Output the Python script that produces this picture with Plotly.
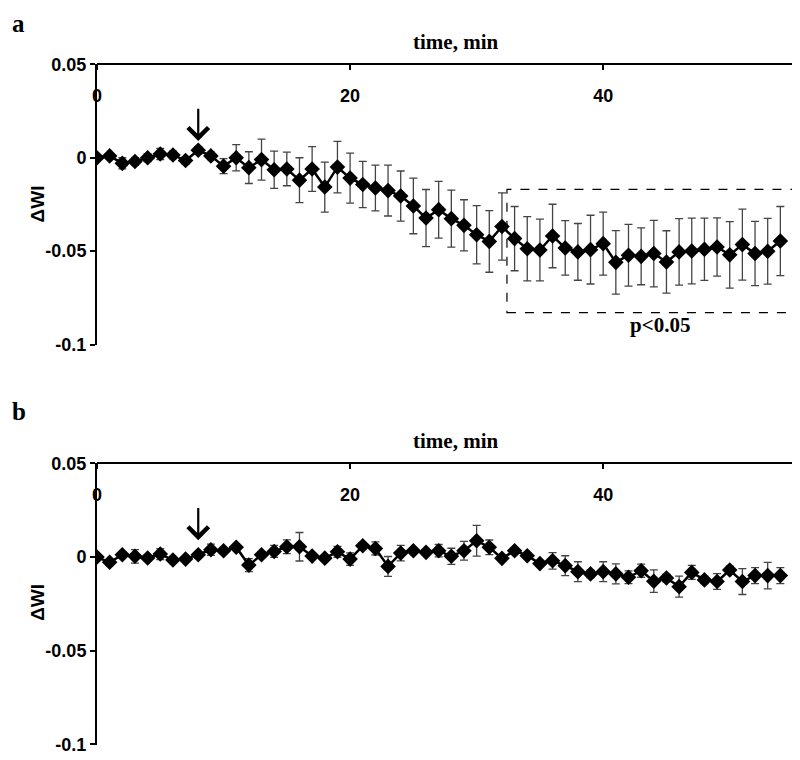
import plotly.graph_objects as go

# time points, one per minute
time_min = list(range(55))

# panel a: mean change and error
wi_a = [0.0, 0.001, -0.003, -0.002, 0.0, 0.002, 0.0015, -0.0015, 0.004, 0.001,
        -0.0045, 0.0, -0.0053, -0.001, -0.0064, -0.006, -0.012, -0.006, -0.0157, -0.005,
        -0.0109, -0.0143, -0.0162, -0.0176, -0.0205, -0.0258, -0.0323, -0.0278, -0.0326, -0.0362,
        -0.0412, -0.0448, -0.0368, -0.0433, -0.0487, -0.0494, -0.0419, -0.0483, -0.0504, -0.0492,
        -0.046, -0.056, -0.0522, -0.0528, -0.0513, -0.0558, -0.0504, -0.0499, -0.049, -0.0478,
        -0.052, -0.0465, -0.0513, -0.0501, -0.0446]
err_a = [0.001, 0.001, 0.003, 0.002, 0.002, 0.003, 0.002, 0.002, 0.002, 0.002,
         0.004, 0.007, 0.0085, 0.011, 0.01, 0.009, 0.012, 0.012, 0.0134, 0.0138,
         0.0134, 0.0124, 0.0122, 0.0136, 0.0134, 0.0149, 0.0153, 0.0152, 0.0153, 0.0137,
         0.0156, 0.0165, 0.018, 0.0172, 0.0172, 0.0165, 0.017, 0.0146, 0.0152, 0.0184,
         0.0169, 0.017, 0.0165, 0.0152, 0.0178, 0.0167, 0.0178, 0.0176, 0.0167, 0.0156,
         0.0178, 0.019, 0.0172, 0.0176, 0.0185]

# panel b
wi_b = [0.0, -0.0028, 0.0012, 0.0004, -0.0005, 0.0016, -0.0016, -0.0011, 0.0012, 0.0039,
        0.0034, 0.0052, -0.0043, 0.0012, 0.003, 0.0055, 0.0055, 0.0005, -0.0006, 0.0028,
        -0.0011, 0.006, 0.0046, -0.005, 0.0021, 0.0034, 0.0025, 0.0034, 0.0004, 0.0034,
        0.0087, 0.0052, -0.0007, 0.0034, 0.0007, -0.0035, -0.002, -0.0046, -0.0078, -0.009,
        -0.0078, -0.009, -0.0108, -0.0073, -0.0129, -0.0112, -0.0158, -0.0082, -0.0122, -0.0131,
        -0.0069, -0.0131, -0.0099, -0.0099, -0.0099]
err_b = [0.001, 0.001, 0.0015, 0.0036, 0.001, 0.0029, 0.001, 0.001, 0.0015, 0.003,
         0.0015, 0.0015, 0.0035, 0.0015, 0.0032, 0.0037, 0.0076, 0.0015, 0.0015, 0.0029,
         0.0033, 0.0015, 0.0035, 0.0053, 0.0041, 0.0015, 0.0015, 0.0033, 0.0043, 0.005,
         0.0082, 0.0039, 0.0015, 0.0015, 0.0015, 0.0015, 0.0044, 0.0053, 0.0053, 0.002,
         0.0053, 0.0053, 0.0034, 0.0035, 0.006, 0.002, 0.0056, 0.0037, 0.002, 0.0042,
         0.002, 0.0069, 0.0043, 0.0071, 0.0043]

y_ticks = [0.05, 0, -0.05, -0.1]
y_ticklabels = ["0.05", "0", "-0.05", "-0.1"]
x_ticks = [0, 20, 40]
stim_time = 8

SANS = "Liberation Sans, Arial"
SERIF = "Liberation Serif, Times New Roman, serif"

fig = go.Figure()
fig.add_trace(go.Scatter(
    x=time_min, y=wi_a, xaxis="x", yaxis="y", mode="lines+markers",
    line=dict(color="black", width=2.5),
    marker=dict(symbol="diamond", size=12, color="black"),
    error_y=dict(type="data", array=err_a, color="#444", thickness=1.3, width=4),
    showlegend=False))
fig.add_trace(go.Scatter(
    x=time_min, y=wi_b, xaxis="x2", yaxis="y2", mode="lines+markers",
    line=dict(color="black", width=2.5),
    marker=dict(symbol="diamond", size=12, color="black"),
    error_y=dict(type="data", array=err_b, color="#444", thickness=1.3, width=4),
    showlegend=False))

xax = dict(range=[0, 55], side="bottom", anchor="free", tickvals=x_ticks, ticks="outside",
           ticklen=5, tickwidth=1.5, tickcolor="black", ticklabelstandoff=10,
           showline=True, linecolor="black", linewidth=2, showgrid=False, zeroline=False,
           automargin=False,
           tickfont=dict(family=SANS, size=18, color="black", weight="bold"))
yax = dict(range=[-0.1004, 0.0502], tickvals=y_ticks, ticktext=y_ticklabels, ticks="outside",
           ticklen=5, tickwidth=1.5, tickcolor="black", automargin=False,
           showline=True, linecolor="black", linewidth=2, showgrid=False, zeroline=False,
           tickfont=dict(family=SANS, size=18, color="black", weight="bold"))

fig.update_layout(
    xaxis=dict(xax, position=1.0),
    xaxis2=dict(xax, position=0.414),
    yaxis=dict(yax, domain=[0.587, 1.0], anchor="x"),
    yaxis2=dict(yax, domain=[0.0, 0.414], anchor="x2"),
)

# stimulus arrows
for xr, yr in [("x", "y"), ("x2", "y2")]:
    fig.add_annotation(x=stim_time, y=0.009, ax=stim_time, ay=0.027, xref=xr, yref=yr,
                       axref=xr, ayref=yr, showarrow=True, arrowhead=4, arrowsize=1.8,
                       arrowwidth=2.2, arrowcolor="black", text="")

# significance box
fig.add_shape(type="rect", xref="paper", yref="paper", x0=0.589, x1=1.008, y0=0.635, y1=0.816,
              line=dict(color="black", width=1.2, dash="dash"))
fig.add_annotation(x=44.5, y=-0.0895, xref="x", yref="y", text="p<0.05", showarrow=False,
                   font=dict(family=SERIF, size=21, color="black", weight="bold"))

# axis titles and panel letters
for ypos in [1.032, 0.446]:
    fig.add_annotation(x=0.515, y=ypos, xref="paper", yref="paper", text="time, min",
                       showarrow=False, xanchor="center", yanchor="middle",
                       font=dict(family=SERIF, size=21, color="black", weight="bold"))
for ypos in [0.795, 0.21]:
    fig.add_annotation(x=-0.085, y=ypos, xref="paper", yref="paper", text="ΔWI",
                       textangle=-90, showarrow=False, xanchor="center", yanchor="middle",
                       font=dict(family=SANS, size=19, color="black", weight="bold"))
for letter, ypos in [("a", 1.059), ("b", 0.489)]:
    fig.add_annotation(x=-0.125, y=ypos, xref="paper", yref="paper", text=letter,
                       showarrow=False, xanchor="left", yanchor="middle",
                       font=dict(family=SERIF, size=25, color="black", weight="bold"))

# page body adds an 8px margin, so the figure is 8px smaller on each side
fig.update_layout(width=792, height=752, margin=dict(l=89, r=7, t=56, b=15),
                  plot_bgcolor="white", paper_bgcolor="white")

fig.write_html("out.html")
